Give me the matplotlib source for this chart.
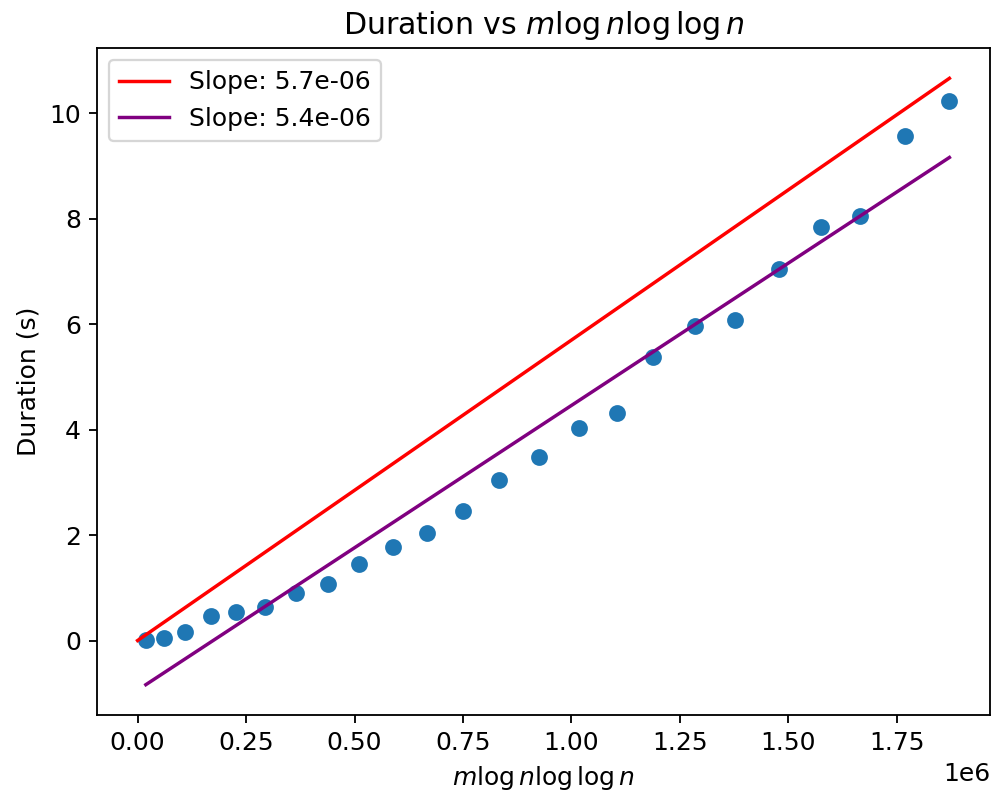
import matplotlib
matplotlib.use('Agg')
import matplotlib.pyplot as plt
import numpy as np

# m log n log log n (x) and measured durations in seconds (y)
x_vals = [0.019e6, 0.061e6, 0.110e6, 0.169e6, 0.226e6, 0.293e6, 0.365e6, 0.439e6,
          0.510e6, 0.589e6, 0.668e6, 0.751e6, 0.834e6, 0.924e6, 1.017e6, 1.105e6,
          1.187e6, 1.284e6, 1.376e6, 1.479e6, 1.574e6, 1.665e6, 1.769e6, 1.871e6]
durations = [0.01, 0.05, 0.16, 0.46, 0.54, 0.63, 0.90, 1.08,
             1.46, 1.77, 2.04, 2.46, 3.04, 3.48, 4.03, 4.31,
             5.37, 5.96, 6.08, 7.05, 7.84, 8.05, 9.57, 10.23]

slope_origin = 5.7e-06
slope_fit = 5.4e-06
intercept_fit = -0.94


def main():
    x = np.array(x_vals)
    y = np.array(durations)

    plt.rcParams['font.size'] = 10.9
    fig = plt.figure(figsize=[991 / 165, 796 / 165], dpi=165)
    ax = fig.add_axes([97 / 991, 1 - 715 / 796, (990 - 97) / 991, (715 - 48) / 796])

    ax.scatter(x, y, s=40)
    xr = np.array([0, x[-1]])
    ax.plot(xr, slope_origin * xr, color='red', label=f'Slope: {slope_origin:.1e}')
    xf = np.array([x[0], x[-1]])
    ax.plot(xf, slope_fit * xf + intercept_fit, color='purple', label=f'Slope: {slope_fit:.1e}')

    ax.set_xlabel(r'$m \log n \log \log n$')
    ax.set_ylabel('Duration (s)')
    ax.set_title(r'Duration vs $m \log n \log \log n$')
    ax.legend(loc='upper left')

    fig.savefig('out.png', dpi=165)
    return 0


if __name__ == '__main__':
    main()
